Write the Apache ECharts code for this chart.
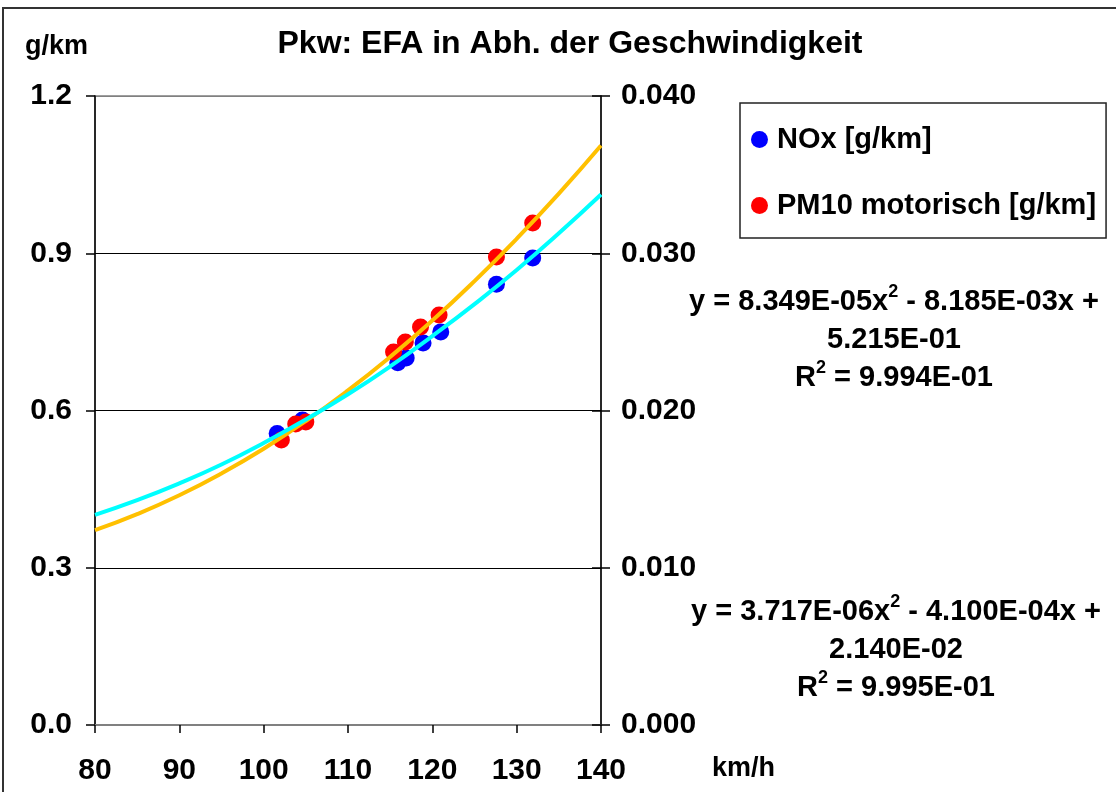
<!DOCTYPE html>
<html>
<head>
<meta charset="utf-8">
<script src="https://cdn.jsdelivr.net/npm/echarts@6/dist/echarts.min.js"></script>
<style>
html,body{margin:0;padding:0;background:#fff;}
#chart{width:1116px;height:792px;}
</style>
</head>
<body>
<div id="chart"></div>
<script>
// ---- data ----
const titleText = 'Pkw: EFA in Abh. der Geschwindigkeit';
const seriesNames = ['NOx [g/km]', 'PM10 motorisch [g/km]'];
const speedNOx = [101.6, 104.6, 115.9, 116.9, 118.9, 121.0, 127.6, 131.9];
const valNOx   = [0.556, 0.582, 0.691, 0.700, 0.729, 0.750, 0.841, 0.891];
const speedPM  = [102.1, 103.8, 105.0, 115.4, 116.8, 118.6, 120.8, 127.6, 131.9];
const valPM    = [0.01812, 0.01914, 0.01927, 0.02372, 0.02435, 0.02531, 0.02607, 0.02976, 0.03192];
// trend lines
const trendX   = [80, 85, 90, 95, 100, 105, 110, 115, 120, 125, 130, 135, 140];
const trendNOx = [0.401, 0.429, 0.461, 0.497, 0.538, 0.583, 0.631, 0.684, 0.742, 0.803, 0.868, 0.938, 1.012];
const trendPM  = [0.01239, 0.01341, 0.01461, 0.01600, 0.01757, 0.01933, 0.02128, 0.02341, 0.02572, 0.02823, 0.03092, 0.03379, 0.03685];
const eqNOx = ['y = 8.349E-05x', ' - 8.185E-03x +', '5.215E-01', 'R', ' = 9.994E-01'];
const eqPM  = ['y = 3.717E-06x', ' - 4.100E-04x +', '2.140E-02', 'R', ' = 9.995E-01'];
const leftTicks = {min: 0, max: 1.2, interval: 0.3};
const rightTicks = {min: 0, max: 0.04, interval: 0.01};
const xTicks = {min: 80, max: 140, interval: 10};

// ---- chart ----
const FONT = "'Liberation Sans', Arial, sans-serif";
const zip = (a, b) => a.map((v, i) => [v, b[i]]);

function eqText(e) {
  return '{t|' + e[0] + '}{s|2}{t|' + e[1] + '}\n{t|' + e[2] + '}\n{t|' + e[3] + '}{s|2}{t|' + e[4] + '}';
}
const eqRich = {
  t: {fontSize: 29, fontWeight: 'bold', fontFamily: FONT, color: '#000', align: 'center', lineHeight: 38},
  s: {fontSize: 18, fontWeight: 'bold', fontFamily: FONT, color: '#000', align: 'center', verticalAlign: 'top', lineHeight: 38, padding: [0, 0, 14, 0]}
};

const chart = echarts.init(document.getElementById('chart'), null, {renderer: 'canvas'});
chart.setOption({
  animation: false,
  backgroundColor: '#fff',
  title: {
    text: titleText,
    left: 565, top: 23, textAlign: 'center',
    textStyle: {fontSize: 32, fontWeight: 'bold', fontFamily: FONT, color: '#000'}
  },
  legend: {
    data: seriesNames,
    orient: 'vertical',
    left: 740, top: 103,
    icon: 'circle',
    itemWidth: 17, itemHeight: 17,
    itemGap: 33,
    padding: [20, 10, 16, 11],
    borderColor: '#222', borderWidth: 1.5,
    backgroundColor: '#fff',
    textStyle: {fontSize: 29, fontWeight: 'bold', fontFamily: FONT, color: '#000', lineHeight: 33, padding: [0, 0, 0, 4]}
  },
  grid: {
    left: 95, right: 515, top: 96, bottom: 67,
    show: true, borderColor: '#808080', borderWidth: 1.5
  },
  xAxis: {
    type: 'value', min: xTicks.min, max: xTicks.max, interval: xTicks.interval,
    name: 'km/h', nameLocation: 'end', nameGap: 111,
    nameTextStyle: {fontSize: 27, fontWeight: 'bold', fontFamily: FONT, color: '#000', verticalAlign: 'top', padding: [30, 0, 0, 0]},
    axisLine: {show: true, lineStyle: {color: '#808080', width: 2}},
    axisTick: {show: true, inside: false, length: 8, lineStyle: {color: '#000', width: 1.5}},
    axisLabel: {margin: 31, fontSize: 30, fontWeight: 'bold', fontFamily: FONT, color: '#000'},
    splitLine: {show: false}
  },
  yAxis: [
    {
      type: 'value', position: 'left', min: leftTicks.min, max: leftTicks.max, interval: leftTicks.interval,
      name: 'g/km', nameLocation: 'end', nameGap: 36,
      nameTextStyle: {fontSize: 27, fontWeight: 'bold', fontFamily: FONT, color: '#000', align: 'right', padding: [0, 7, 0, 0]},
      axisLine: {show: true, lineStyle: {color: '#000', width: 1.5}},
      axisTick: {show: true, inside: false, length: 9, lineStyle: {color: '#000', width: 1.5}},
      axisLabel: {margin: 23, fontSize: 30, fontWeight: 'bold', fontFamily: FONT, color: '#000', formatter: v => v.toFixed(1)},
      splitLine: {show: true, lineStyle: {color: ['#808080', '#000', '#000', '#000', '#808080'], width: 1}}
    },
    {
      type: 'value', position: 'right', min: rightTicks.min, max: rightTicks.max, interval: rightTicks.interval,
      axisLine: {show: true, lineStyle: {color: '#000', width: 1.5}},
      axisTick: {show: true, inside: false, length: 9, lineStyle: {color: '#000', width: 1.5}},
      axisLabel: {margin: 20, fontSize: 30, fontWeight: 'bold', fontFamily: FONT, color: '#000', formatter: v => v.toFixed(3)},
      splitLine: {show: false}
    },
    {
      type: 'value', position: 'right', min: rightTicks.min, max: rightTicks.max, interval: rightTicks.interval,
      axisLine: {show: false},
      axisTick: {show: true, inside: true, length: 9, lineStyle: {color: '#000', width: 1.5}},
      axisLabel: {show: false},
      splitLine: {show: false}
    }
  ],
  series: [
    {
      name: seriesNames[0], type: 'scatter', yAxisIndex: 0,
      data: zip(speedNOx, valNOx), symbol: 'circle', symbolSize: 17,
      itemStyle: {color: '#0000FF', opacity: 1}, z: 2
    },
    {
      name: seriesNames[1], type: 'scatter', yAxisIndex: 1,
      data: zip(speedPM, valPM), symbol: 'circle', symbolSize: 17,
      itemStyle: {color: '#FF0000', opacity: 1}, z: 2
    },
    {
      name: 'Trend PM10', type: 'line', yAxisIndex: 1, smooth: true, showSymbol: false, symbol: 'none',
      data: zip(trendX, trendPM), lineStyle: {color: '#FFC000', width: 4}, itemStyle: {color: '#FFC000'}, z: 3
    },
    {
      name: 'Trend NOx', type: 'line', yAxisIndex: 0, smooth: true, showSymbol: false, symbol: 'none',
      data: zip(trendX, trendNOx), lineStyle: {color: '#00FFFF', width: 4}, itemStyle: {color: '#00FFFF'}, z: 4
    }
  ],
  graphic: [
    {type: 'rect', shape: {x: 3, y: 8, width: 1300, height: 900}, style: {fill: 'none', stroke: '#333', lineWidth: 2}, silent: true, z: 100},
    {type: 'text', x: 894, y: 283, style: {text: eqText(eqNOx), rich: eqRich, align: 'center', verticalAlign: 'top'}, z: 50},
    {type: 'text', x: 896, y: 593, style: {text: eqText(eqPM), rich: eqRich, align: 'center', verticalAlign: 'top'}, z: 50}
  ]
});
</script>
</body>
</html>
